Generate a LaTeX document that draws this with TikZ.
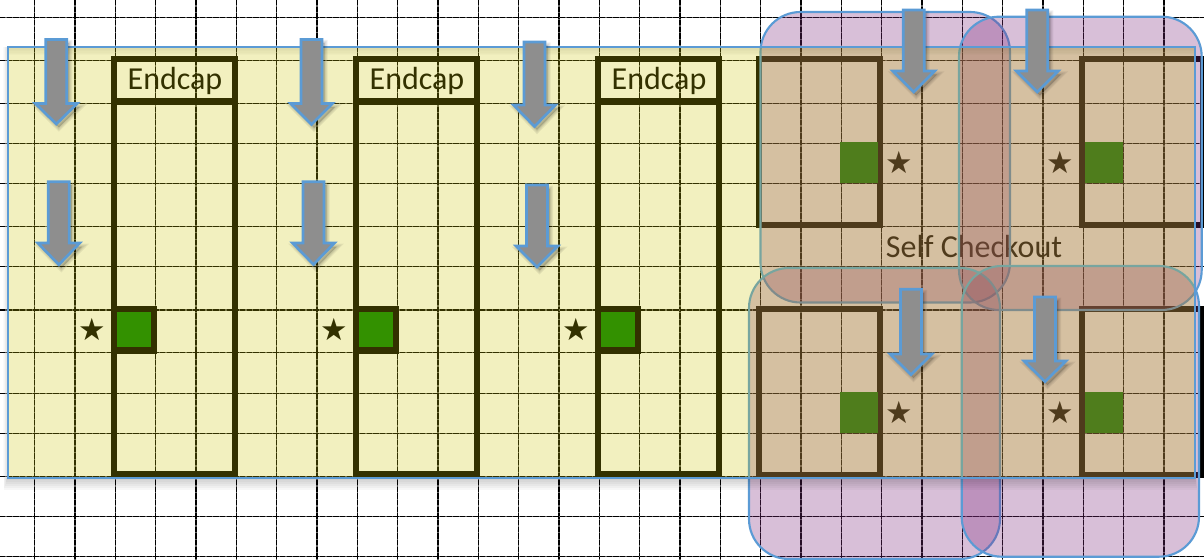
\documentclass[tikz,border=0pt]{standalone}
\usepackage{fontspec}
\setmainfont{Carlito}
\newfontfamily\starfont{DejaVu Sans}
\definecolor{bluel}{HTML}{5B9BD5}
\definecolor{yel}{RGB}{205,197,0}
\definecolor{pur}{RGB}{128,45,128}
\definecolor{grn}{RGB}{0,128,0}
\definecolor{arr}{HTML}{8E8E8E}
\tikzset{
  gridbase/.style={line width=.85pt,black!62},
  gridtop/.style={line width=.85pt,black,dash pattern=on 4pt off 1pt},
  fixture/.style={draw=black,line width=4.8pt},
  spot/.style={fill=grn},
  zone/.style={draw=bluel,line width=1.6pt,fill=pur,fill opacity=.3,rounded corners=30pt},
  floorarea/.style={fill=yel,fill opacity=.25},
  floorline/.style={draw=bluel,line width=1.5pt},
  flow/.style={draw=bluel,line width=2pt,fill=arr,line join=miter},
  flowshadow/.style={fill=black,fill opacity=.06,draw=black,draw opacity=.06},
  lab/.style={font=\fontsize{24pt}{26pt}\selectfont,text=black,inner sep=0pt},
  starlab/.style={font=\starfont\fontsize{23pt}{24pt}\selectfont,text=black,inner sep=0pt},
}
\newcommand{\flowarrow}[4]{% cx, top, neck, tip
  \foreach \w in {4.5pt,3pt,1.5pt}{
    \path[flowshadow,line width=\w,shift={(2.5,3.5)}]
      (#1-10.5,#2+1) -- (#1+10.5,#2+1) -- (#1+10.5,#3) -- (#1+21,#3) -- (#1,#4-1) -- (#1-21,#3) -- (#1-10.5,#3) -- cycle;
  }
  \path[flow] (#1-10.5,#2+1) -- (#1+10.5,#2+1) -- (#1+10.5,#3) -- (#1+21,#3) -- (#1,#4-1) -- (#1-21,#3) -- (#1-10.5,#3) -- cycle;
}
\begin{document}
\begin{tikzpicture}[x=.75pt,y=-.75pt]
\useasboundingbox (0,0) rectangle (1204,560);
\fill[white] (0,0) rectangle (1204,560);
\begin{scope}
\clip (0,0) rectangle (1204,560);
% grid
\foreach \k in {0,...,29}{
  \pgfmathsetmacro{\gx}{34.7+40.33*\k}
  \draw[gridbase] (\gx,0) -- (\gx,560);
  \draw[gridtop] (\gx,0) -- (\gx,560);
}
\foreach \gy in {17.7,60.3,103.3,143.7,183.7,226.7,266.7,310,352.7,393.3,433.7,476.7,516.7,556.7}{
  \draw[gridbase] (0,\gy) -- (1204,\gy);
  \draw[gridtop] (0,\gy) -- (1204,\gy);
}
% endcap aisles
\foreach \bx/\nm in {114/a,356/b,598/c}{
  \draw[fixture] (\bx,59) rectangle (\bx+121,474.5);
  \draw[fixture] (\bx,101.7) -- (\bx+121,101.7);
  \draw[fixture,fill=grn] (\bx,309) rectangle (\bx+40,350.5);
  \node[lab] (end\nm) at (\bx+61,81) {Endcap};
  \node[starlab] (star\nm) at (\bx-22,329) {★};
}
% checkout fixtures
\draw[fixture] (759,59) rectangle (880,225);
\draw[fixture] (1082,59) rectangle (1203,225);
\draw[fixture] (759,309) rectangle (880,475);
\draw[fixture] (1082,309) rectangle (1203,475);
\fill[spot] (840,142) rectangle (877.5,183);
\fill[spot] (1084.5,142) rectangle (1123,183);
\fill[spot] (840,392) rectangle (877.5,433);
\fill[spot] (1084.5,392) rectangle (1123,433);
\node[starlab] (stard) at (899,162) {★};
\node[starlab] (stare) at (1060,162) {★};
\node[starlab] (starf) at (899,412) {★};
\node[starlab] (starg) at (1060,412) {★};
\node[lab] (self) at (974,247) {Self Checkout};
% purple zones
\path[zone] (760.5,12) rectangle (1010,302.5);
\path[zone] (959,16.7) rectangle (1201.7,310);
\path[zone] (749,268) rectangle (1000,559);
\path[zone] (961.7,266) rectangle (1199,556.7);
% floor shadow
\foreach \i in {1,...,6}{
  \fill[black,fill opacity=.03] (7.5-\i*.6,478) rectangle (1195+\i*.3,478+\i*2);
  \fill[black,fill opacity=.02] (7.5-\i*.7,47) rectangle (7.5,478);
  \fill[black,fill opacity=.02] (7.5,47) rectangle (1195,47+\i*1.4);
}
% floor
\path[floorarea] (7.5,47) rectangle (1195,478);
\path[floorline] (7.5,47) rectangle (1195,478);
% flow arrows
\flowarrow{56.3}{38.5}{103.5}{125}
\flowarrow{58.8}{180.7}{243}{265.7}
\flowarrow{311.5}{38.5}{103.5}{125.5}
\flowarrow{313.5}{180.7}{243}{265.5}
\flowarrow{534.5}{41}{105}{127.5}
\flowarrow{537}{184}{246}{268}
\flowarrow{913.7}{9}{71}{93}
\flowarrow{1037.3}{9}{71}{93}
\flowarrow{911}{288.3}{354}{375.7}
\flowarrow{1045}{296}{361}{382.7}
\end{scope}
\end{tikzpicture}
\end{document}
